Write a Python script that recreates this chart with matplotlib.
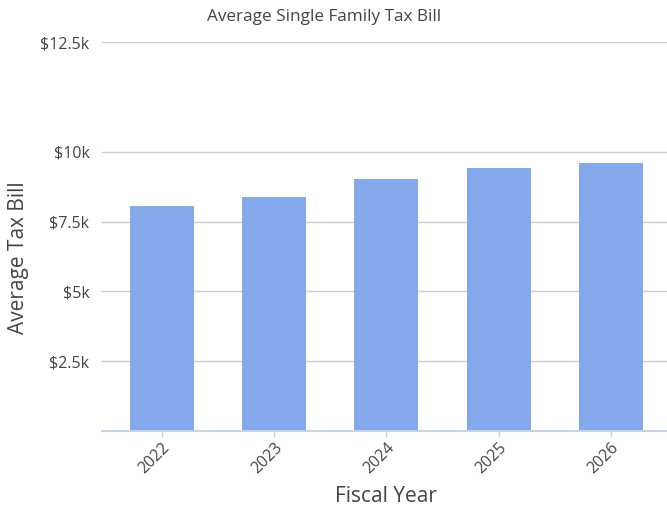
import matplotlib
matplotlib.use("Agg")
import matplotlib.pyplot as plt

years = ["2022", "2023", "2024", "2025", "2026"]
tax_bill = [8060, 8390, 9020, 9430, 9620]
ytick_values = [2500, 5000, 7500, 10000, 13940]
ytick_labels = ["$2.5k", "$5k", "$7.5k", "$10k", "$12.5k"]

plt.rcParams['font.family'] = ['Open Sans', 'DejaVu Sans']
text_color = "#444444"

fig = plt.figure(figsize=(6.67, 5.13), dpi=100)
ax = fig.add_axes([102/667, 1 - 431/513, 1 - 102/667, (431 - 42)/513])

x = list(range(len(years)))
ax.bar(x, tax_bill, width=0.57, color="#83a9ec", zorder=2)

ax.set_xlim(-0.533, 4.5)
ax.set_ylim(0, ytick_values[-1])
ax.set_yticks(ytick_values)
ax.set_yticklabels(ytick_labels, fontsize=11.5, color=text_color)
ax.yaxis.grid(True, color="#cccccc", linewidth=1, zorder=0)
ax.tick_params(axis='y', length=0, pad=9)

ax.set_xticks(x)
ax.set_xticklabels(years, rotation=45, ha='right', va='top', rotation_mode='anchor',
                   fontsize=11.5, color=text_color)
ax.tick_params(axis='x', length=4, color="#c6d3e3", width=1, pad=2)

for s in ['top', 'right', 'left']:
    ax.spines[s].set_visible(False)
ax.spines['bottom'].set_color("#c6d3e3")
ax.spines['bottom'].set_linewidth(1.5)

ax.set_xlabel("Fiscal Year", fontsize=15, color=text_color, va='center')
ax.xaxis.set_label_coords((386 - 102) / 565, -(497 - 431) / 389)
ax.set_ylabel("Average Tax Bill", fontsize=15, color=text_color, va='center')
ax.yaxis.set_label_coords(-(102 - 19) / 565, (431 - 258) / 389)

fig.text(324/667, 1 - 17/513, "Average Single Family Tax Bill", ha='center', va='center',
         fontsize=12.3, color=text_color)

fig.savefig("out.png", dpi=100)
